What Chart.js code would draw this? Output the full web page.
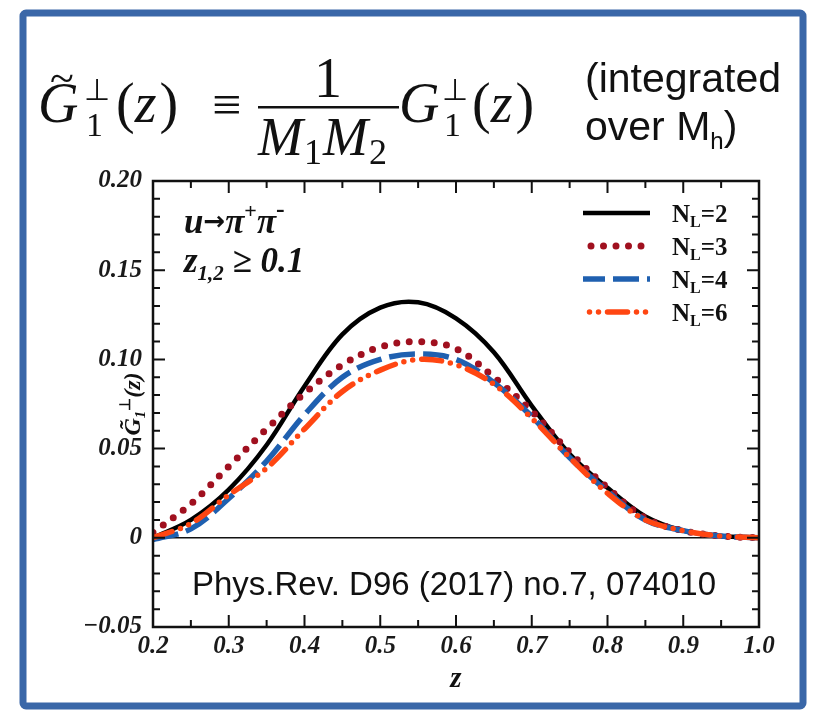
<!DOCTYPE html>
<html>
<head>
<meta charset="utf-8">
<script src="https://cdn.jsdelivr.net/npm/chart.js@4.4.1/dist/chart.umd.min.js"></script>
<style>
  html, body { margin: 0; padding: 0; background: #fff; }
  #wrap { position: relative; width: 820px; height: 710px; overflow: hidden; }
  #plot { position: absolute; left: 0; top: 0; }
  #hdr { position: absolute; left: 0; top: 0; pointer-events: none; }
</style>
</head>
<body>
<div id="wrap">
  <canvas id="plot" width="820" height="710"></canvas>
  <svg id="hdr" width="820" height="710" xmlns="http://www.w3.org/2000/svg">
    <rect x="23" y="13" width="780" height="693" fill="none" stroke="#3a67a8" stroke-width="7" rx="3"/>
    <g font-family="Liberation Serif, Times New Roman, serif" fill="#111">
      <text x="38" y="122" font-size="56" font-style="italic">G</text>
      <text x="50" y="93" font-size="44">~</text>
      <text x="84" y="100" font-size="30">⊥</text>
      <text x="86" y="136" font-size="34">1</text>
      <text x="116" y="122" font-size="56">(<tspan font-style="italic">z</tspan><tspan dx="3">)</tspan></text>
      <text x="212" y="122" font-size="52">≡</text>
      <text x="314" y="97" font-size="56">1</text>
      <rect x="258" y="106" width="141" height="2.5"/>
      <text x="258" y="155" font-size="54" font-style="italic">M<tspan font-size="36" font-style="normal" dy="9" dx="1">1</tspan><tspan dy="-9" dx="1">M</tspan><tspan font-size="36" font-style="normal" dy="9" dx="1">2</tspan></text>
      <text x="399" y="122" font-size="56" font-style="italic">G</text>
      <text x="442" y="100" font-size="30">⊥</text>
      <text x="444" y="136" font-size="34">1</text>
      <text x="472" y="122" font-size="56">(<tspan font-style="italic">z</tspan><tspan dx="3">)</tspan></text>
    </g>
    <g font-family="Liberation Sans, Arial, sans-serif" fill="#111" font-size="41">
      <text x="585" y="92">(integrated</text>
      <text x="585" y="140">over M<tspan font-size="24" dy="9">h</tspan><tspan dy="-9">)</tspan></text>
    </g>
  </svg>
</div>
<script>
// z grid and the four curves
const zValues = [0.20, 0.25, 0.30, 0.35, 0.40, 0.45, 0.50, 0.55, 0.60, 0.65, 0.70, 0.75, 0.80, 0.85, 0.90, 0.95, 1.00];
const nl2 = [0.000, 0.010, 0.027, 0.052, 0.085, 0.114, 0.129, 0.132, 0.123, 0.104, 0.074, 0.047, 0.028, 0.012, 0.004, 0.001, 0.000];
const nl3 = [0.003, 0.019, 0.040, 0.061, 0.081, 0.097, 0.107, 0.110, 0.106, 0.090, 0.071, 0.048, 0.028, 0.011, 0.004, 0.001, 0.000];
const nl4 = [-0.001, 0.005, 0.022, 0.043, 0.069, 0.090, 0.100, 0.103, 0.100, 0.087, 0.068, 0.045, 0.026, 0.010, 0.004, 0.001, 0.000];
const nl6 = [0.000, 0.008, 0.024, 0.039, 0.061, 0.082, 0.094, 0.100, 0.097, 0.086, 0.067, 0.045, 0.025, 0.010, 0.004, 0.001, 0.000];
const seriesNames = ['2', '3', '4', '6'];

// tick labels
const xTicks = [0.2, 0.3, 0.4, 0.5, 0.6, 0.7, 0.8, 0.9, 1.0];
const yTicks = [-0.05, 0, 0.05, 0.10, 0.15, 0.20];

const SERIF = '"Liberation Serif", "Times New Roman", serif';
const SANS = '"Liberation Sans", Arial, sans-serif';

function pts(vals) {
    return zValues.map((z, i) => ({ x: z, y: vals[i] }));
}

// draws a row of text pieces (text, font, dy) one after another
function rich(ctx, x, y, parts, align) {
    let w = 0;
    parts.forEach(p => { ctx.font = p[1]; w += ctx.measureText(p[0]).width; });
    let cx = align === 'center' ? x - w / 2 : x;
    parts.forEach(p => {
        ctx.font = p[1];
        ctx.fillText(p[0], cx, y + (p[2] || 0));
        cx += ctx.measureText(p[0]).width;
    });
}

const decor = {
    id: 'decor',
    beforeDatasetsDraw(chart) {
        const { ctx, chartArea: a, scales: { y } } = chart;
        const y0 = y.getPixelForValue(0);
        ctx.save();
        ctx.strokeStyle = '#111';
        ctx.lineWidth = 1.5;
        ctx.beginPath();
        ctx.moveTo(a.left, y0);
        ctx.lineTo(a.right, y0);
        ctx.stroke();
        ctx.restore();
    },
    afterDraw(chart) {
        const { ctx, chartArea: a, scales: { x, y } } = chart;
        ctx.save();
        ctx.strokeStyle = '#111';
        ctx.fillStyle = '#111';

        // frame
        ctx.lineWidth = 2.5;
        ctx.strokeRect(a.left, a.top, a.right - a.left, a.bottom - a.top);

        // inward ticks on all four sides
        ctx.lineWidth = 2;
        ctx.beginPath();
        for (let i = 0; i <= 16; i++) {
            const px = x.getPixelForValue(0.2 + i * 0.05);
            const len = i % 2 === 0 ? 12 : 7;
            ctx.moveTo(px, a.bottom); ctx.lineTo(px, a.bottom - len);
            ctx.moveTo(px, a.top); ctx.lineTo(px, a.top + len);
        }
        for (let i = 0; i <= 25; i++) {
            const py = y.getPixelForValue(-0.05 + i * 0.01);
            const len = i % 5 === 0 ? 12 : 7;
            ctx.moveTo(a.left, py); ctx.lineTo(a.left + len, py);
            ctx.moveTo(a.right, py); ctx.lineTo(a.right - len, py);
        }
        ctx.stroke();

        // legend, in dataset order, drawn with each dataset's own style
        const rows = [213, 246, 279, 312];
        chart.data.datasets.forEach((ds, i) => {
            const ly = rows[i];
            ctx.save();
            ctx.strokeStyle = ds.borderColor;
            ctx.lineWidth = ds.borderWidth;
            ctx.lineCap = ds.borderCapStyle || 'butt';
            ctx.setLineDash(ds.borderDash || []);
            ctx.lineDashOffset = ds.legendDashOffset || 0;
            ctx.beginPath();
            ctx.moveTo(583, ly);
            ctx.lineTo(650, ly);
            ctx.stroke();
            ctx.restore();
            ctx.textBaseline = 'alphabetic';
            rich(ctx, 672, ly + 9, [
                ['N', 'bold 25px ' + SERIF],
                ['L', 'bold 16px ' + SERIF, 5],
                ['=' + seriesNames[i], 'bold 25px ' + SERIF]
            ]);
        });

        // process and cut labels
        rich(ctx, 184, 233, [
            ['u', 'italic bold 35px ' + SERIF],
            ['\u2192', 'bold 26px "DejaVu Sans", sans-serif', -3],
            ['\u03c0', 'italic bold 35px ' + SERIF],
            ['+', 'bold 22px ' + SERIF, -15],
            ['\u03c0', 'italic bold 35px ' + SERIF],
            ['-', 'bold 26px ' + SERIF, -16]
        ]);
        rich(ctx, 184, 272, [
            ['z', 'italic bold 35px ' + SERIF],
            ['1,2', 'italic bold 21px ' + SERIF, 8],
            [' \u2265 0.1', 'italic bold 35px ' + SERIF]
        ]);

        // reference line
        rich(ctx, 454, 595, [['Phys.Rev. D96 (2017) no.7, 074010', '33px ' + SANS]], 'center');

        // x title
        rich(ctx, x.getPixelForValue(0.6), 687, [['z', 'italic bold 29px ' + SERIF]], 'center');

        // y title, rotated, between the 0.10 and 0.05 labels
        ctx.translate(140, 404);
        ctx.rotate(-Math.PI / 2);
        rich(ctx, 0, 0, [
            ['G\u0303', 'italic bold 24px ' + SERIF],
            ['1', 'italic bold 15px ' + SERIF, 5],
            ['\u22a5', 'bold 15px ' + SERIF, -10],
            ['(z)', 'italic bold 24px ' + SERIF]
        ], 'center');
        ctx.restore();
    }
};

const tickFont = { family: SERIF, size: 25, style: 'italic', weight: 'bold' };

const ctx = document.getElementById('plot').getContext('2d');
const myChart = new Chart(ctx, {
    type: 'line',
    data: {
        datasets: [
            {
                label: 'NL=2', data: pts(nl2),
                borderColor: '#000', borderWidth: 4.5,
                order: 3
            },
            {
                label: 'NL=3', data: pts(nl3),
                borderColor: '#a0101f', borderWidth: 7,
                borderDash: [0, 12.5], borderCapStyle: 'round',
                legendDashOffset: -8,
                order: 2
            },
            {
                label: 'NL=4', data: pts(nl4),
                borderColor: '#1f60b0', borderWidth: 5.5,
                borderDash: [26, 8],
                legendDashOffset: 4,
                order: 1
            },
            {
                label: 'NL=6', data: pts(nl6),
                borderColor: '#ff4612', borderWidth: 5.5,
                borderDash: [20, 9, 0, 9, 0, 9], borderCapStyle: 'round',
                legendDashOffset: 22.5,
                order: 0
            }
        ]
    },
    options: {
        responsive: false,
        animation: false,
        events: [],
        layout: { padding: { top: 181, right: 61, left: 0, bottom: 0 } },
        elements: {
            point: { radius: 0 },
            line: { tension: 0.35, fill: false }
        },
        scales: {
            x: {
                type: 'linear', min: 0.2, max: 1.0,
                afterBuildTicks: s => { s.ticks = xTicks.map(v => ({ value: v })); },
                afterFit: s => { s.height = 83; },
                grid: { display: false, drawTicks: false },
                border: { display: false },
                ticks: {
                    font: tickFont, color: '#1a1a1a', padding: 5,
                    maxRotation: 0, autoSkip: false,
                    callback: v => v.toFixed(1)
                }
            },
            y: {
                type: 'linear', min: -0.05, max: 0.2,
                afterBuildTicks: s => { s.ticks = yTicks.map(v => ({ value: v })); },
                afterFit: s => { s.width = 153; },
                grid: { display: false, drawTicks: false },
                border: { display: false },
                ticks: {
                    font: tickFont, color: '#1a1a1a', padding: 11,
                    callback: v => Math.abs(v) < 1e-9 ? '0' : (v < 0 ? '\u2212' : '') + Math.abs(v).toFixed(2)
                }
            }
        },
        plugins: {
            legend: { display: false },
            tooltip: { enabled: false }
        }
    },
    plugins: [decor]
});
</script>
</body>
</html>
